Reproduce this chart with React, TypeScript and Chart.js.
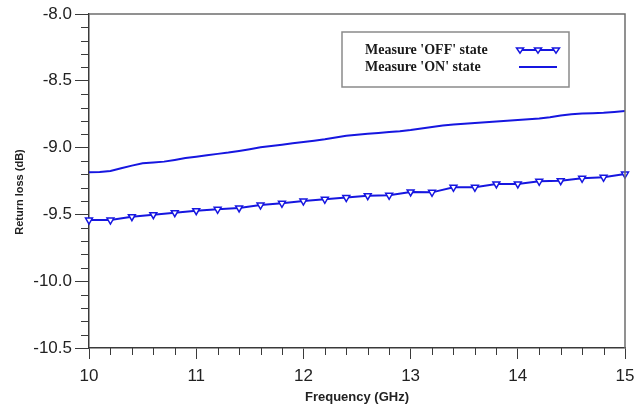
import React, { useEffect, useRef } from 'react';
import { Chart, registerables } from 'chart.js';
Chart.register(...registerables);

// Frequency in GHz
const frequencyOff = [10, 10.2, 10.4, 10.6, 10.8, 11, 11.2, 11.4, 11.6, 11.8, 12, 12.2, 12.4, 12.6, 12.8, 13, 13.2, 13.4, 13.6, 13.8, 14, 14.2, 14.4, 14.6, 14.8, 15];
const returnLossOff = [-9.542, -9.542, -9.517, -9.502, -9.487, -9.472, -9.462, -9.452, -9.43, -9.417, -9.4, -9.387, -9.374, -9.36, -9.357, -9.332, -9.335, -9.297, -9.297, -9.272, -9.272, -9.252, -9.248, -9.23, -9.222, -9.198];

const frequencyOn = [10, 10.1, 10.2, 10.3, 10.4, 10.5, 10.6, 10.7, 10.8, 10.9, 11, 11.1, 11.2, 11.3, 11.4, 11.5, 11.6, 11.7, 11.8, 11.9, 12, 12.1, 12.2, 12.3, 12.4, 12.5, 12.6, 12.7, 12.8, 12.9, 13, 13.1, 13.2, 13.3, 13.4, 13.5, 13.6, 13.7, 13.8, 13.9, 14, 14.1, 14.2, 14.3, 14.4, 14.5, 14.6, 14.7, 14.8, 14.9, 15];
const returnLossOn = [-9.185, -9.182, -9.175, -9.155, -9.135, -9.118, -9.112, -9.105, -9.092, -9.078, -9.068, -9.058, -9.047, -9.037, -9.025, -9.012, -8.998, -8.988, -8.978, -8.968, -8.958, -8.948, -8.938, -8.925, -8.912, -8.903, -8.896, -8.89, -8.884, -8.877, -8.868, -8.857, -8.845, -8.835, -8.828, -8.822, -8.816, -8.81, -8.805, -8.799, -8.793, -8.788, -8.782, -8.772, -8.76, -8.75, -8.745, -8.742, -8.739, -8.733, -8.726];

const seriesLabels = ["Measure 'OFF' state", "Measure 'ON' state"];
const xRange = [10, 15];
const yRange = [-10.5, -8.0];
const xMajorStep = 1;
const xMinorStep = 0.2;
const yMajorStep = 0.5;
const yMinorStep = 0.1;
const xTitle = 'Frequency (GHz)';
const yTitle = 'Return loss (dB)';

const LINE_COLOR = '#1616e0';
const AXIS_COLOR = '#3a3a3a';

function drawTriangleDown(ctx: CanvasRenderingContext2D, x: number, y: number, r: number) {
  ctx.beginPath();
  ctx.moveTo(x - r, y - r * 0.6);
  ctx.lineTo(x + r, y - r * 0.6);
  ctx.lineTo(x, y + r * 0.9);
  ctx.closePath();
  ctx.fillStyle = '#ffffff';
  ctx.fill();
  ctx.stroke();
}

const decorPlugin = {
  id: 'decor',
  afterDraw(chart: any) {
    const ctx: CanvasRenderingContext2D = chart.ctx;
    const { left, right, top, bottom } = chart.chartArea;
    const xs = chart.scales.x;
    const ys = chart.scales.y;
    ctx.save();
    // frame top/right
    ctx.strokeStyle = '#6e6e6e';
    ctx.lineWidth = 1.5;
    ctx.beginPath();
    ctx.moveTo(left, top);
    ctx.lineTo(right, top);
    ctx.lineTo(right, bottom);
    ctx.stroke();
    // minor ticks
    ctx.strokeStyle = AXIS_COLOR;
    ctx.lineWidth = 1;
    const nY = Math.round((yRange[1] - yRange[0]) / yMinorStep);
    for (let i = 0; i <= nY; i++) {
      const v = yRange[0] + i * yMinorStep;
      const isMajor = Math.abs(v / yMajorStep - Math.round(v / yMajorStep)) < 1e-6;
      if (isMajor) continue;
      const py = Math.round(ys.getPixelForValue(v)) + 0.5;
      ctx.beginPath();
      ctx.moveTo(left - 8, py);
      ctx.lineTo(left, py);
      ctx.stroke();
    }
    const nX = Math.round((xRange[1] - xRange[0]) / xMinorStep);
    for (let i = 0; i <= nX; i++) {
      const v = xRange[0] + i * xMinorStep;
      const isMajor = Math.abs(v / xMajorStep - Math.round(v / xMajorStep)) < 1e-6;
      if (isMajor) continue;
      const px = Math.round(xs.getPixelForValue(v)) + 0.5;
      ctx.beginPath();
      ctx.moveTo(px, bottom);
      ctx.lineTo(px, bottom + 7);
      ctx.stroke();
    }
    // y axis title (drawn slightly below centre, as in the reference)
    ctx.save();
    ctx.translate(20, (top + bottom) / 2 + 11);
    ctx.rotate(-Math.PI / 2);
    ctx.font = 'bold 11px "Liberation Sans", Arial, sans-serif';
    ctx.fillStyle = '#222';
    ctx.textAlign = 'center';
    ctx.textBaseline = 'middle';
    ctx.fillText(yTitle, 0, 0);
    ctx.restore();
    // legend box
    const bx = 342, by = 32, bw = 227, bh = 55;
    ctx.fillStyle = '#ffffff';
    ctx.fillRect(bx, by, bw, bh);
    ctx.strokeStyle = '#8a8a8a';
    ctx.lineWidth = 1.5;
    ctx.strokeRect(bx, by, bw, bh);
    ctx.font = 'bold 14px "Liberation Serif", "Times New Roman", serif';
    ctx.textBaseline = 'middle';
    ctx.textAlign = 'left';
    const ds = chart.data.datasets;
    const rows = [50, 67];
    ds.forEach((d: any, i: number) => {
      const y = rows[i];
      ctx.fillStyle = '#1a1a1a';
      ctx.fillText(d.label, 365, y);
      ctx.strokeStyle = d.borderColor;
      ctx.lineWidth = 2;
      ctx.beginPath();
      ctx.moveTo(519, y);
      ctx.lineTo(557, y);
      ctx.stroke();
      if (d.pointRadius > 0) {
        ctx.lineWidth = 1.5;
        ctx.strokeStyle = d.pointBorderColor;
        [520, 538, 556].forEach((mx) => drawTriangleDown(ctx, mx, y, 3.5));
      }
    });
    ctx.restore();
  },
};

export default function App() {
  const ref = useRef<HTMLCanvasElement>(null);
  useEffect(() => {
    document.body.style.margin = '0';
    if (!ref.current) return;
    const chart = new Chart(ref.current, {
      type: 'line',
      data: {
        datasets: [
          {
            label: seriesLabels[0],
            data: frequencyOff.map((f, i) => ({ x: f, y: returnLossOff[i] })),
            borderColor: LINE_COLOR,
            borderWidth: 2,
            pointStyle: 'triangle',
            pointRotation: 180,
            pointRadius: 4,
            pointBorderWidth: 1.5,
            pointBorderColor: LINE_COLOR,
            pointBackgroundColor: '#ffffff',
            tension: 0,
            clip: false as any,
          },
          {
            label: seriesLabels[1],
            data: frequencyOn.map((f, i) => ({ x: f, y: returnLossOn[i] })),
            borderColor: LINE_COLOR,
            borderWidth: 2,
            pointRadius: 0,
            tension: 0,
          },
        ],
      },
      options: {
        responsive: false,
        animation: false,
        layout: { padding: { top: 14, right: 11, left: 0, bottom: 0 } },
        plugins: { legend: { display: false }, tooltip: { enabled: false } },
        scales: {
          x: {
            type: 'linear',
            min: xRange[0],
            max: xRange[1],
            afterFit: (s: any) => { s.height = 65; s.paddingRight = 0; s.paddingLeft = 0; },
            ticks: {
              stepSize: xMajorStep,
              padding: 7,
              color: '#222',
              font: { family: '"Liberation Sans", Arial, sans-serif', size: 17 },
              callback: (v: any) => String(v),
            },
            grid: { drawOnChartArea: false, drawTicks: true, tickLength: 11, color: AXIS_COLOR },
            border: { color: AXIS_COLOR, width: 1.5 },
            title: {
              display: true,
              text: xTitle,
              color: '#222',
              padding: { top: 0, bottom: 8 },
              font: { family: '"Liberation Sans", Arial, sans-serif', size: 13, weight: 'bold' },
            },
          },
          y: {
            type: 'linear',
            min: yRange[0],
            max: yRange[1],
            afterFit: (s: any) => { s.width = 89; },
            ticks: {
              stepSize: yMajorStep,
              padding: 3,
              color: '#222',
              font: { family: '"Liberation Sans", Arial, sans-serif', size: 17 },
              callback: (v: any) => Number(v).toFixed(1),
            },
            grid: { drawOnChartArea: false, drawTicks: true, tickLength: 14, color: AXIS_COLOR },
            border: { color: AXIS_COLOR, width: 1.5 },
            title: { display: false, text: yTitle },
          },
        },
      },
      plugins: [decorPlugin],
    });
    return () => chart.destroy();
  }, []);
  return <canvas ref={ref} width={636} height={413} style={{ display: 'block' }} />;
}
